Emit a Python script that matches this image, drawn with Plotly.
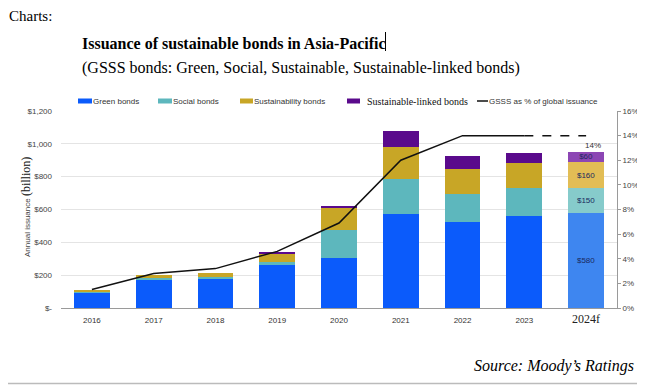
import plotly.graph_objects as go

years = ["2016", "2017", "2018", "2019", "2020", "2021", "2022", "2023", "2024f"]
green = [95, 172, 178, 265, 303, 571, 526, 561, 580]
social = [7, 12, 13, 17, 173, 214, 169, 169, 150]
sustainability = [3, 15, 24, 51, 136, 195, 153, 152, 160]
linked = [0, 0, 0, 7, 12, 97, 77, 63, 60]
gsss_pct = [1.5, 2.8, 3.2, 4.6, 6.9, 12.0, 14.0, 14.0, 14.0]

left_ticks = [0, 200, 400, 600, 800, 1000, 1200]
left_labels = ["$-", "$200", "$400", "$600", "$800", "$1,000", "$1,200"]
right_ticks = [0, 2, 4, 6, 8, 10, 12, 14, 16]
right_labels = ["0%", "2%", "4%", "6%", "8%", "10%", "12%", "14%", "16%"]
forecast_labels = {"green": "$580", "social": "$150", "sust": "$160", "linked": "$60"}

PAGE_W, PAGE_H = 645, 386
OFF = 8  # default body margin of the page
W, H = PAGE_W - OFF, PAGE_H - OFF
# plot area in page pixels
L, R, T, B = 61, 617, 111, 308


def px(x):
    return (x - L) / (R - L)


def py(y):
    return (B - y) / (B - T)


SANS = "Arial, Liberation Sans, sans-serif"
SERIF = "Times New Roman, Liberation Serif, serif"

cols = {
    "green": ("#0B5BFB", "#3E86F0"),
    "social": ("#5DB7BD", "#86CBCB"),
    "sust": ("#C8A626", "#E2BD55"),
    "linked": ("#5A0A8C", "#8C46B4"),
}


def colors(key):
    c, f = cols[key]
    return [f if y.endswith("f") else c for y in years]


def texts(key):
    return [forecast_labels[key] if y.endswith("f") else "" for y in years]


fig = go.Figure()
for key, vals, name in [("green", green, "Green bonds"), ("social", social, "Social bonds"),
                        ("sust", sustainability, "Sustainability bonds"),
                        ("linked", linked, "Sustainable-linked bonds")]:
    fig.add_trace(go.Bar(
        x=years, y=vals, name=name, marker=dict(color=colors(key), line=dict(width=0)),
        text=texts(key), textposition="inside", insidetextanchor="middle",
        textfont=dict(family=SANS, size=8, color="#1B2A5E"), textangle=0,
        constraintext="none", showlegend=False,
    ))

fig.add_trace(go.Scatter(x=years[:-1], y=gsss_pct[:-1], yaxis="y2", mode="lines",
                         line=dict(color="#111111", width=1.5), showlegend=False))
fig.add_trace(go.Scatter(x=years[-2:], y=gsss_pct[-2:], yaxis="y2", mode="lines",
                         line=dict(color="#111111", width=1.5, dash="dash"), showlegend=False))

ticktext = [f"<span style='font-family:{SERIF};font-size:12px;color:#222'>{y}</span>" if y.endswith("f") else y for y in years]

fig.update_layout(
    width=W, height=H,
    margin=dict(l=L - OFF, r=W - (R - OFF), t=T - OFF, b=H - (B - OFF), pad=0, autoexpand=False),
    paper_bgcolor="white", plot_bgcolor="white",
    barmode="stack", bargap=0.42,
    uniformtext=dict(minsize=8, mode="show"),
    xaxis=dict(tickvals=years, ticktext=ticktext, tickfont=dict(family=SANS, size=8, color="#333"),
               showgrid=False, showline=True, linecolor="#9A9A9A", linewidth=1, ticks="",
               ticklabelstandoff=4, automargin=False),
    yaxis=dict(range=[0, 1200], tickvals=left_ticks, ticktext=left_labels,
               tickfont=dict(family=SANS, size=8, color="#444"), showgrid=True,
               gridcolor="#E4E4E4", gridwidth=1, zeroline=False, ticklabelstandoff=8,
               automargin=False),
    yaxis2=dict(range=[0, 16], tickvals=right_ticks, ticktext=right_labels, overlaying="y",
                side="right", tickfont=dict(family=SANS, size=8, color="#444"), showgrid=False,
                zeroline=False, showline=True, linecolor="#9A9A9A", linewidth=1,
                ticks="outside", ticklen=3, tickcolor="#9A9A9A", automargin=False),
)

ann = []
shapes = []


def note(**kw):
    kw.setdefault("showarrow", False)
    kw.setdefault("borderpad", 0)
    kw.setdefault("borderwidth", 0)
    ann.append(kw)


# Legend (manual)
ly = 101
leg = [("rect", cols["green"][0], 78, 92, "Green bonds", SANS, 8, 1),
       ("rect", cols["social"][0], 158, 172, "Social bonds", SANS, 8, 1),
       ("rect", cols["sust"][0], 240, 253, "Sustainability bonds", SANS, 8, 1),
       ("rect", cols["linked"][0], 347, 360, "Sustainable-linked bonds", SERIF, 10, 7),
       ("line", "#111111", 477, 488, "GSSS as % of global issuance", SANS, 8, 1)]
for kind, c, x0, x1, label, fam, fs, gap in leg:
    if kind == "rect":
        shapes.append(dict(type="rect", xref="paper", yref="paper", x0=px(x0), x1=px(x1),
                           y0=py(ly + 2.5), y1=py(ly - 2.5), fillcolor=c, line=dict(width=0)))
    else:
        shapes.append(dict(type="line", xref="paper", yref="paper", x0=px(x0), x1=px(x1),
                           y0=py(ly), y1=py(ly), line=dict(color=c, width=1.5)))
    note(xref="paper", yref="paper", x=px(x1 + gap), y=py(ly), xanchor="left", yanchor="middle",
         text=label, font=dict(family=fam, size=fs, color="#333" if fam == SANS else "#111"))

# 14% label
note(x="2024f", y=14, yref="y2", xref="x", text="14%", xshift=7, yshift=-10,
     font=dict(family=SANS, size=8, color="#333"))

# y-axis title
note(xref="paper", yref="paper", x=px(26), y=py(207), textangle=-90, xanchor="center", yanchor="middle",
     text=f"Annual issuance <span style='font-family:{SERIF};font-size:12px;color:#111'>(billion)</span>",
     font=dict(family=SANS, size=8, color="#444"))

# Page texts
note(xref="paper", yref="paper", x=px(9), y=py(16), xanchor="left", yanchor="middle",
     text="Charts:", font=dict(family=SERIF, size=15, color="#000"))
note(xref="paper", yref="paper", x=px(82), y=py(43), xanchor="left", yanchor="middle",
     text="<b>Issuance of sustainable bonds in Asia-Pacific</b>", font=dict(family=SERIF, size=16, color="#000"))
note(xref="paper", yref="paper", x=px(82), y=py(68), xanchor="left", yanchor="middle",
     text="(GSSS bonds: Green, Social, Sustainable, Sustainable-linked bonds)",
     font=dict(family=SERIF, size=16, color="#000"))
note(xref="paper", yref="paper", x=px(634), y=py(366), xanchor="right", yanchor="middle",
     text="<i>Source: Moody\u2019s Ratings</i>", font=dict(family=SERIF, size=16, color="#000"))

# text cursor after the title
shapes.append(dict(type="line", xref="paper", yref="paper", x0=px(385.5), x1=px(385.5), y0=py(32), y1=py(51),
                   line=dict(color="#000000", width=1)))
shapes.append(dict(type="line", xref="paper", yref="paper", x0=px(0), x1=px(PAGE_W), y0=py(383.5), y1=py(383.5),
                   line=dict(color="#BBBBBB", width=1.5)))

fig.update_layout(annotations=ann, shapes=shapes)
fig.write_html("out.html")
